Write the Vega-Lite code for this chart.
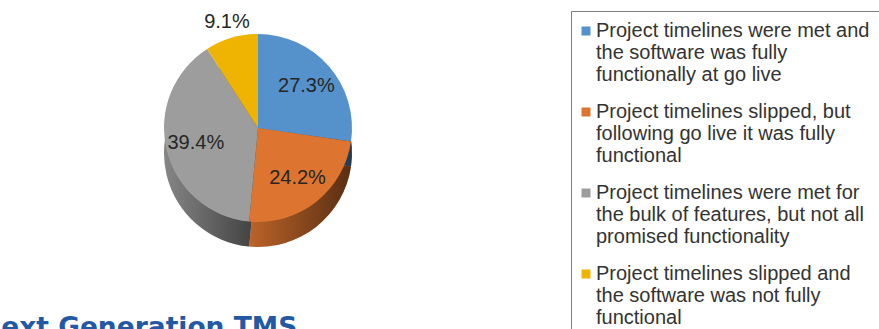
{
  "$schema": "https://vega.github.io/schema/vega-lite/v6.json",
  "width": 516,
  "height": 256,
  "autosize": {"type": "none"},
  "padding": {"left": 0, "top": 0, "right": 363, "bottom": 73},
  "background": "white",
  "config": {"view": {"stroke": null}, "font": "Liberation Sans"},
  "title": {
    "text": "Next Generation TMS",
    "orient": "top",
    "anchor": "start",
    "frame": "group",
    "dx": -21,
    "dy": 362,
    "offset": 0,
    "baseline": "alphabetic",
    "font": "DejaVu Sans",
    "fontSize": 26.5,
    "fontWeight": "bold",
    "color": "#2358A5"
  },
  "data": {
    "values": [
      {"category": "Project timelines were met and the software was fully functionally at go live", "value": 0.273, "order": 1},
      {"category": "Project timelines slipped, but following go live it was fully functional", "value": 0.242, "order": 2},
      {"category": "Project timelines were met for the bulk of features, but not all promised functionality", "value": 0.394, "order": 3},
      {"category": "Project timelines slipped and the software was not fully functional", "value": 0.091, "order": 4}
    ]
  },
  "encoding": {
    "theta": {"field": "value", "type": "quantitative", "stack": true},
    "order": {"field": "order", "type": "quantitative"}
  },
  "layer": [
    {
      "mark": {"type": "arc", "radius": 94, "yOffset": 25},
      "encoding": {
        "color": {
          "field": "category",
          "type": "nominal",
          "scale": {
            "domain": [
              "Project timelines were met and the software was fully functionally at go live",
              "Project timelines slipped, but following go live it was fully functional",
              "Project timelines were met for the bulk of features, but not all promised functionality",
              "Project timelines slipped and the software was not fully functional"
            ],
            "range": ["#5592CC", "#DD742F", "#9D9D9D", "#EFB301"]
          },
          "legend": {
            "orient": "none",
            "legendX": 571,
            "legendY": 11,
            "title": null,
            "labelExpr": "datum.label == 'Project timelines were met and the software was fully functionally at go live' ? ['Project timelines were met and', 'the software was fully', 'functionally at go live'] : datum.label == 'Project timelines slipped, but following go live it was fully functional' ? ['Project timelines slipped, but', 'following go live it was fully', 'functional'] : datum.label == 'Project timelines were met for the bulk of features, but not all promised functionality' ? ['Project timelines were met for', 'the bulk of features, but not all', 'promised functionality'] : ['Project timelines slipped and', 'the software was not fully', 'functional']",
            "labelFont": "Liberation Sans",
            "labelFontSize": 20,
            "labelColor": "#333333",
            "labelLimit": 0,
            "labelOffset": 0,
            "symbolOffset": -5,
            "symbolType": "square",
            "symbolSize": 81,
            "symbolStrokeWidth": 0,
            "strokeColor": "#808080",
            "fillColor": "white",
            "padding": 10,
            "rowPadding": 17
          }
        }
      }
    },
    {
      "mark": {
        "type": "arc",
        "radius": 94,
        "yOffset": 25,
        "fill": {
          "gradient": "linear",
          "x1": 0, "y1": 0, "x2": 1, "y2": 0,
          "stops": [
            {"offset": 0, "color": "rgba(0,0,0,0.15)"},
            {"offset": 1, "color": "rgba(0,0,0,0.6)"}
          ]
        }
      }
    },
    {
      "mark": {"type": "arc", "radius": 94},
      "encoding": {
        "color": {"field": "category", "type": "nominal"}
      }
    },
    {
      "mark": {"type": "text", "fontSize": 20, "color": "#262626", "font": "Liberation Sans", "radius": 64},
      "encoding": {
        "text": {"field": "value", "type": "quantitative", "format": ".1%"},
        "opacity": {"condition": {"test": "datum.value < 0.1", "value": 0}, "value": 1}
      }
    },
    {
      "mark": {"type": "text", "fontSize": 20, "color": "#262626", "font": "Liberation Sans", "radius": 110},
      "encoding": {
        "text": {"field": "value", "type": "quantitative", "format": ".1%"},
        "opacity": {"condition": {"test": "datum.value < 0.1", "value": 1}, "value": 0}
      }
    }
  ]
}
